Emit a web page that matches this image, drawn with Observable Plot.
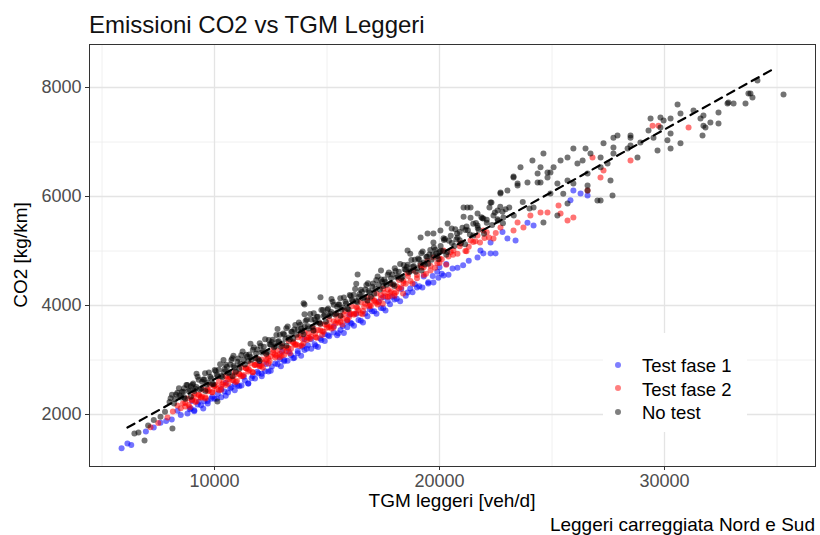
<!DOCTYPE html>
<html><head><meta charset="utf-8">
<script src="https://cdn.jsdelivr.net/npm/d3@7"></script>
<script src="https://cdn.jsdelivr.net/npm/@observablehq/plot@0.6"></script>
<style>
body{margin:0;background:#fff;font-family:"Liberation Sans",Arial,Helvetica,sans-serif;}
#wrap{position:relative;width:820px;height:535px;overflow:hidden;background:#fff;}
#chart{position:absolute;left:0;top:0;}
.t{position:absolute;white-space:nowrap;line-height:1;color:#000;}
#legend{position:absolute;left:603px;top:333px;width:144px;height:99px;background:#fff;}
</style></head>
<body><div id="wrap">
<div id="chart"></div>
<div class="t" style="left:89px;top:12.5px;font-size:24px;color:#111;">Emissioni CO2 vs TGM Leggeri</div>
<div class="t" style="left:452px;top:491px;font-size:19px;transform:translateX(-50%);">TGM leggeri [veh/d]</div>
<div class="t" style="left:20px;top:255px;font-size:19px;transform:translate(-50%,-50%) rotate(-90deg);">CO2 [kg/km]</div>
<div class="t" style="right:5px;top:515px;font-size:19px;">Leggeri carreggiata Nord e Sud</div>
<div id="legend"></div>
</div>
<script>
// ---- data ----
const seriesNames = ["Test fase 1", "Test fase 2", "No test"];
const seriesColors = ["#0000ff", "#ff0000", "#000000"];
const xTicks = [10000, 20000, 30000];
const xMinor = [5000, 15000, 25000, 35000];
const yTicks = [2000, 4000, 6000, 8000];
const yMinor = [3000, 5000, 7000];
const lineX = [6130, 34930];
const lineY = [1760, 8360];

const testFase1 = [
[5870,1380],[6130,1470],[6300,1440],[6950,1690],[7300,1760],[7600,1850],[7850,1880],[8100,1910],[8355,2070],[8500,1990],[8800,2020],[8950,2110],[9000,2250],[9100,2080],[9250,2185],[9400,2170],[9550,2245],[9700,2200],[9850,2290],[10000,2290],[10150,2380],[10300,2315],[10450,2420],[10500,2580],[10600,2405],[10750,2500],[10900,2445],[11020,2530],[11200,2530],[11350,2625],[11500,2570],[11650,2665],[11800,2660],[11950,2755],[12000,2920],[12100,2700],[12250,2795],[12400,2790],[12550,2880],[12800,2920],[12950,2885],[13000,3150],[13100,3000],[13250,2985],[13400,3085],[13550,3040],[13700,3125],[13850,3080],[14000,3185],[14000,3380],[14150,3270],[14300,3205],[14450,3290],[14600,3240],[14750,3365],[14900,3350],[15050,3455],[15290,3505],[15450,3455],[15600,3550],[15750,3495],[15900,3600],[16000,3830],[16050,3685],[16200,3630],[16400,3735],[16600,3690],[16800,3805],[17000,3895],[17200,3850],[17400,3955],[17500,4150],[17600,3910],[17800,4025],[18000,4110],[18250,4080],[18580,4240],[18800,4245],[19000,4330],[19240,4330],[19500,4425],[19730,4420],[19950,4510],[20000,4700],[20180,4550],[20400,4565],[20580,4680],[20800,4695],[21050,4740],[21300,4820],[21690,4880],[21820,5010],[21950,4955],[22270,4955],[22490,4955],[22270,5155],[22800,5350],[23020,5230],[23380,5195],[23910,5520],[24180,5470],[25820,5930],[25950,6110],[26270,6055],[26580,6020],
[8900,2095],[9100,2061],[9300,2236],[9500,2112],[9700,2248],[9900,2324],[10100,2290],[10300,2466],[10500,2342],[10700,2478],[10900,2553],[11100,2519],[11300,2695],[11500,2571],[11700,2707],[11900,2783],[12100,2749],[12300,2925],[12500,2801],[12700,2936],[12900,3012],[13100,2978],[13300,3154],[13500,3030],[13700,3166],[13900,3242],[14100,3207],[14300,3383],[14500,3259],[14700,3395],[14900,3471],[15100,3437],[15300,3613],[15500,3489],[15700,3625],[15900,3700],[16100,3666],[16300,3842],[16500,3718],[16700,3854],[16900,3930],[17100,3896],[17300,4072],[17500,3948],[17700,4083],[17900,4159],[18100,4125],[18300,4301],[18500,4177],[18700,4313],[18900,4389],[19100,4355],[19300,4530],[19500,4406],[19700,4542],[19900,4618],[20100,4584],[20300,4760]
];

const testFase2 = [
[7155,1765],[7500,1845],[7910,1945],[8150,2055],[8355,2165],[8500,2115],[8700,2210],[8850,2175],[9000,2270],[9080,2330],[9150,2230],[9300,2355],[9380,2320],[9450,2330],[9600,2315],[9680,2460],[9750,2440],[9900,2415],[9980,2520],[10050,2540],[10200,2445],[10280,2510],[10350,2555],[10500,2540],[10580,2650],[10650,2655],[10840,2625],[10880,2720],[10950,2595],[11100,2740],[11180,2700],[11250,2705],[11400,2850],[11480,2840],[11550,2815],[11700,2775],[11780,2910],[11850,2920],[12000,2895],[12080,2890],[12150,2860],[12300,3005],[12380,3030],[12450,2980],[12600,3135],[12680,3100],[12750,3080],[12900,3050],[12980,3080],[13050,3185],[13200,3160],[13280,3220],[13350,3125],[13500,3310],[13580,3290],[13650,3285],[13820,3450],[13880,3270],[13950,3305],[14100,3415],[14180,3410],[14250,3390],[14400,3535],[14480,3480],[14550,3410],[14700,3545],[14780,3460],[14850,3520],[15000,3645],[15080,3600],[15150,3620],[15290,3595],[15380,3670],[15450,3725],[15600,3700],[15680,3650],[15750,3835],[15900,3730],[15980,3790],[16050,3845],[16200,3830],[16280,3860],[16350,3955],[16500,3860],[16580,3840],[16650,3975],[16800,4075],[16880,3980],[16950,3990],[17100,4095],[17180,4050],[17250,4020],[17400,4135],[17480,4030],[17550,4230],[17700,4155],[17780,4170],[17850,4260],[18000,4180],[18080,4250],[18200,4310],[18380,4220],[18400,4415],[18580,4590],[18710,4450],[18840,4640],[19000,4500],[19160,4735],[19300,4560],[19470,4825],[19600,4640],[19730,4880],[20000,4780],[20180,5010],[20400,4900],[20620,5010],[20930,5140],[21150,5000],[21380,5195],[21690,5285],[21950,5375],[22200,5250],[22710,5430],[23290,5375],[23470,5525],[23730,5430],[24040,5650],[24490,5705],[24800,5705],[25290,5835],[25380,5690],[25690,5560],[25950,5615],[26580,6110],[26800,6715],[27155,6350],[27290,6475],[28490,6660],[29470,7300],[29730,7300],[31070,7265],
[8600,2206],[8700,2149],[8800,2292],[8900,2135],[9000,2268],[9100,2381],[9200,2243],[9300,2366],[9400,2309],[9500,2452],[9600,2295],[9700,2428],[9800,2541],[9900,2404],[10000,2527],[10100,2470],[10200,2613],[10300,2456],[10400,2589],[10500,2702],[10600,2565],[10700,2688],[10800,2631],[10900,2773],[11000,2616],[11100,2749],[11200,2862],[11300,2725],[11400,2848],[11500,2791],[11600,2934],[11700,2777],[11800,2910],[11900,3023],[12000,2886],[12100,3009],[12200,2952],[12300,3095],[12400,2938],[12500,3071],[12600,3183],[12700,3046],[12800,3169],[12900,3112],[13000,3255],[13100,3098],[13200,3231],[13300,3344],[13400,3207],[13500,3330],[13600,3273],[13700,3416],[13800,3259],[13900,3392],[14000,3505],[14100,3367],[14200,3490],[14300,3433],[14400,3576],[14500,3419],[14600,3552],[14700,3665],[14800,3528],[14900,3651],[15000,3594],[15100,3737],[15200,3580],[15300,3713],[15400,3826],[15500,3689],[15600,3812],[15700,3755],[15800,3897],[15900,3740],[16000,3873],[16100,3986],[16200,3849],[16300,3972],[16400,3915],[16500,4058],[16600,3901],[16700,4034],[16800,4147],[16900,4010],[17000,4133],[17100,4076],[17200,4219],[17300,4062],[17400,4195],[17500,4308],[17600,4170],[17700,4293],[17800,4236],[17900,4379],[18000,4222],[18100,4355],[18200,4468],[18300,4331],[18400,4454],[18500,4397],[18600,4540],[18800,4406],[19000,4562],[19200,4698],[19400,4583],[19600,4729],[19800,4695],[20000,4861],[20300,4750],[20600,4929],[20900,5087],[21200,4996],[21500,5165],[21800,5154],[22100,5343],[22400,5231],
[19300,4700],[19900,4780],[20100,4850],[20500,4980],[20800,4950],[21300,5080],[21600,5180],[22000,5240],[22500,5330]
];

const noTest = [
[6440,1650],[6620,1670],[6890,1525],[7050,1800],[7300,1900],[7600,1960],[7800,2050],[8130,1745],[10130,2240],
[8050,2300],[8250,2280],[8350,2400],[8450,2350],[8650,2480],[8950,2520],
[8000,2228],[8110,2361],[8200,2204],[8290,2367],[8420,2480],[8500,2313],[8610,2416],[8700,2289],[8790,2542],[8900,2455],[9020,2548],[9100,2431],[9190,2503],[9300,2636],[9410,2479],[9500,2642],[9580,2755],[9700,2588],[9810,2691],[9900,2564],[10010,2817],[10100,2730],[10190,2823],[10300,2706],[10420,2779],[10500,2912],[10610,2755],[10700,2918],[10790,3031],[10900,2863],[11020,2966],[11100,2839],[11190,3092],[11300,3005],[11410,3098],[11500,2981],[11590,3054],[11700,3187],[11820,3030],[11900,3193],[12010,3306],[12100,3139],[12190,3242],[12300,3115],[12410,3368],[12500,3281],[12590,3373],[12700,3256],[12820,3329],[12900,3462],[13010,3305],[13100,3468],[13190,3581],[13300,3414],[13410,3517],[13500,3390],[13590,3643],[13700,3556],[13820,3649],[13900,3532],[14010,3605],[14100,3737],[14190,3580],[14300,3743],[14410,3856],[14500,3689],[14590,3792],[14700,3665],[14820,3918],[14900,3831],[15010,3924],[15100,3807],[15190,3880],[15300,4013],[15410,3856],[15500,4019],[15590,4132],[15700,3965],[15820,4067],[15900,3940],[16010,4193],[16100,4106],[16190,4199],[16300,4082],[16410,4155],[16500,4288],[16590,4131],[16700,4294],[16820,4407],[16900,4240],[17010,4343],[17100,4216],[17190,4469],[17300,4382],[17410,4475],[17500,4358],[17590,4430],[17700,4563],[17820,4406],[17900,4569],[18010,4682],[18100,4515],[18190,4618],[18300,4491],[18410,4744],[18500,4657],[18590,4750],[18700,4633],[18820,4706],[18900,4839],[19010,4682],[19100,4845],[19190,4958],[19300,4790],[19410,4893],[19500,4766],[19590,5019],[19700,4932],[19820,5025],[19900,4908],[20000,4981],
[8550,2414],[8650,2317],[8750,2540],[8850,2433],[8950,2326],[9050,2569],[9150,2472],[9250,2695],[9350,2458],[9450,2601],[9550,2644],[9650,2547],[9750,2770],[9850,2663],[9950,2556],[10050,2799],[10150,2701],[10250,2924],[10350,2687],[10450,2830],[10550,2873],[10650,2776],[10750,2999],[10850,2892],[10950,2785],[11050,3028],[11150,2931],[11250,3154],[11350,2917],[11450,3060],[11550,3103],[11650,3006],[11750,3228],[11850,3121],[11950,3014],[12050,3257],[12150,3160],[12250,3383],[12350,3146],[12450,3289],[12550,3332],[12650,3235],[12750,3458],[12850,3351],[12950,3244],[13050,3487],[13150,3390],[13250,3613],[13350,3376],[13450,3518],[13550,3561],[13650,3464],[13750,3687],[13850,3580],[13950,3473],[14050,3716],[14150,3619],[14250,3842],[14350,3605],[14450,3748],[14550,3791],[14650,3694],[14750,3917],[14850,3810],[14950,3703],[15050,3946],[15150,3848],[15250,4071],[15350,3834],[15450,3977],[15550,4020],[15650,3923],[15750,4146],[15850,4039],[15950,3932],[16050,4175],[16150,4078],[16250,4301],[16350,4064],[16450,4207],[16550,4250],[16650,4153],[16750,4375],[16850,4268],[16950,4161],[17050,4404],[17150,4307],[17250,4530],[17350,4293],[17450,4436],[17550,4479],[17650,4382],[17750,4605],[17850,4498],[17950,4391],[18050,4634],[18150,4537],[18250,4760],[18350,4523],[18450,4665],[18550,4708],[18650,4611],[18750,4834],[18850,4727],[18950,4620],[19050,4863],[19150,4766],[19250,4989],[19350,4752],[19450,4895],[19550,4938],[19650,4841],[19750,5064],[19850,4957],[19950,4850],[20050,5092],[20150,4995],[20250,5218],[20350,4981],[20550,5147],[20750,5213],[20950,5139],[21150,5385],[21350,5301],
[20060,5005],[20180,5232],[20300,4930],[20420,5187],[20540,5415],[20660,5092],[20780,5320],[20900,5197],[21020,5425],[21140,5122],[21260,5380],[21380,5608],[21500,5285],[21620,5513],[21740,5390],[21860,5618],[21980,5315],[22100,5573],[22220,5800],[22340,5478],[22460,5705],[22580,5583],[22700,5810],[22820,5508],[22940,5765],
[9200,2750],[10400,3000],[11600,3300],[12800,3570],[14000,3840],[15200,4120],[16300,4400],[17400,4640],[18700,4950],
[9600,2430],[10800,2700],[12000,2980],[13200,3260],[14400,3540],[15600,3810],[16800,4090],[18000,4360],[19200,4640],
[10840,3080],[13960,4040],[14710,4150],[16360,4570],[14000,4020],[18580,5010],[19160,5250],[19470,5320],[19730,5155],[19730,5320],
[20200,5200],[20360,5505],[20500,5280],[20700,5400],[20800,5250],[20900,5350],[20040,5375],[21070,5630],[21070,5800],[21240,5800],[21380,5800],[21200,5450],[21500,5500],[21690,5690],[21690,5470],[21700,5420],[21900,5600],[21950,5595],[22100,5520],[22270,5890],[22310,5890],[22400,5650],[22580,5745],[22600,5560],[22710,6055],[22710,6075],[22800,5720],[22840,5615],[23020,6110],[23100,5800],[23290,6350],[23290,6365],[23300,5650],[23470,6200],[23470,6240],[23600,6535],[23700,5900],[23910,6255],[24000,5780],[24130,6660],[24180,5800],[24360,6255],[24360,6420],[24490,6255],[24490,6535],[24620,6790],[24620,5525],[24800,6350],[24800,6440],[24930,6440],[24930,6055],[25070,6535],[25240,6240],[25240,5650],[25380,6660],[25500,6050],[25690,6715],[25690,6295],[25690,5870],[25950,6880],[25950,6240],[26130,6605],[26360,6660],[26490,6880],[26580,6420],[26580,6200],[26580,6110],[26710,6790],[27020,5925],[27160,6715],[27160,6535],[27160,5925],[27290,6975],[27470,6605],[27600,6295],[27690,6020],[27730,6900],[27730,6790],[27730,7080],[27910,7120],[28360,6880],[28490,7120],[28490,7080],[28490,6935],[28800,6715],[28930,6990],[29290,7210],[29380,7430],[29510,7080],[29690,6845],[29820,7265],[29820,7450],[29960,7395],[30130,7030],[30270,7430],[30270,7155],[30270,6880],[30580,7690],[30710,7525],[30710,6975],[31290,7580],[31600,7430],[31690,7120],[31730,7485],[31730,7300],[31820,7265],[32040,7360],[32400,7540],[32400,7340],[32800,7705],[32840,7725],[33070,7705],[33600,7705],[33730,7890],[33820,7890],[33910,7815],[34130,8130],[35290,7870]
];

// ---- build ----
const rows = (arr, g) => arr.map(([x, y]) => ({x, y, g}));
const points = [
  ...rows(testFase1, seriesNames[0]),
  ...rows(testFase2, seriesNames[1]),
  ...rows(noTest, seriesNames[2])
];
const fitLine = lineX.map((x, i) => ({x, y: lineY[i]}));

const plot = Plot.plot({
  width: 820,
  height: 535,
  marginLeft: 89,
  marginRight: 5,
  marginTop: 44,
  marginBottom: 69,
  style: {fontFamily: '"Liberation Sans", Arial, Helvetica, sans-serif', background: "transparent"},
  x: {domain: [4444, 36711]},
  y: {domain: [1046, 8789]},
  color: {domain: seriesNames, range: seriesColors},
  marks: [
    Plot.ruleX(xMinor, {stroke: "#ececec", strokeWidth: 0.8}),
    Plot.ruleY(yMinor, {stroke: "#ececec", strokeWidth: 0.8}),
    Plot.ruleX(xTicks, {stroke: "#e4e4e4", strokeWidth: 1.3}),
    Plot.ruleY(yTicks, {stroke: "#e4e4e4", strokeWidth: 1.3}),
    Plot.dot(points, {x: "x", y: "y", fill: "g", r: 3, fillOpacity: 0.55, stroke: null}),
    Plot.line(fitLine, {x: "x", y: "y", stroke: "#000", strokeWidth: 2.2, strokeDasharray: "8,6"}),
    Plot.frame({stroke: "#333", strokeWidth: 1}),
    Plot.axisX({ticks: xTicks, tickFormat: d => String(d), tickSize: 4, tickPadding: 4, fontSize: 18, stroke: "#333", fill: "#4d4d4d", label: null}),
    Plot.axisY({ticks: yTicks, tickFormat: d => String(d), tickSize: 4, tickPadding: 4, fontSize: 18, stroke: "#333", fill: "#4d4d4d", label: null})
  ]
});
document.getElementById("chart").appendChild(plot);

// legend
const lg = document.getElementById("legend");
seriesNames.forEach((name, i) => {
  const dot = document.createElement("div");
  dot.style.cssText = `position:absolute;left:12px;top:${[32,55,79][i]-3}px;width:6px;height:6px;border-radius:50%;background:${seriesColors[i]};opacity:0.5;`;
  lg.appendChild(dot);
  const t = document.createElement("div");
  t.className = "t";
  t.style.cssText = `position:absolute;left:39px;top:${[358,381.5,405][i]-333-1}px;font-size:18.5px;line-height:1;white-space:nowrap;color:#000;`;
  t.textContent = name;
  lg.appendChild(t);
});
</script>
</body></html>
